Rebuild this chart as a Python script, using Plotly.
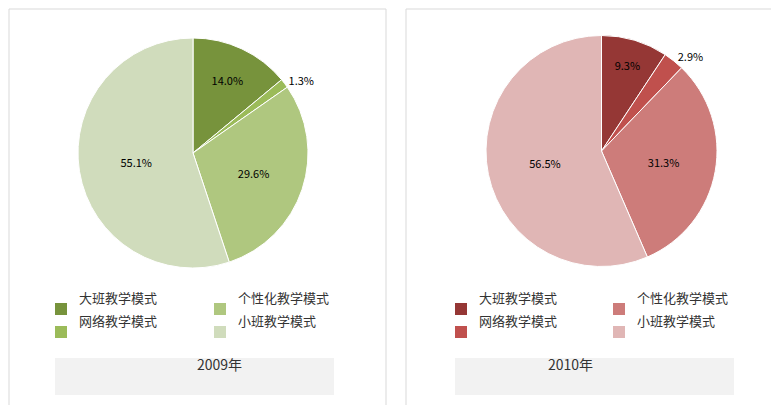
import plotly.graph_objects as go

labels = ["大班教学模式", "网络教学模式", "个性化教学模式", "小班教学模式"]
values_2009 = [14.0, 1.3, 29.6, 55.1]
values_2010 = [9.3, 2.9, 31.3, 56.5]
years = ["2009年", "2010年"]
colors_2009 = ["#77933c", "#9bbb59", "#afc77f", "#d0dcbc"]
colors_2010 = ["#953735", "#c0504d", "#cd7c7a", "#e0b6b5"]

W, H = 779, 405
def px(x): return x / W
def py(y): return 1 - y / H

fig = go.Figure()
panels = [
    (values_2009, colors_2009, years[0], 1, [70, 300], [30, 260], 47, 206, ["inside", "outside", "inside", "inside"]),
    (values_2010, colors_2010, years[1], 398, [478, 709], [27, 259], 447, 605, ["inside", "outside", "inside", "inside"]),
]
shapes, annotations = [], []
for vals, cols, year, left, dx, dy, lx1, lx2, tpos in panels:
    fig.add_trace(go.Pie(
        labels=labels, values=vals, sort=False, direction="clockwise", rotation=0,
        marker=dict(colors=cols, line=dict(color="white", width=1)),
        texttemplate="%{value:.1f}%", textposition=tpos,
        textfont=dict(size=11, color="black", family="Noto Sans CJK SC"),
        showlegend=False, hoverinfo="label+percent",
        domain=dict(x=[px(dx[0]), px(dx[1])], y=[py(dy[1]), py(dy[0])]),
    ))
    shapes.append(dict(type="rect", xref="paper", yref="paper", x0=px(left), x1=px(left + 377),
                       y0=py(403), y1=py(1), line=dict(color="#d9d9d9", width=1)))
    shapes.append(dict(type="rect", xref="paper", yref="paper", x0=px(lx1), x1=px(lx1 + 279),
                       y0=py(387), y1=py(350), fillcolor="#f2f2f2", line=dict(width=0)))
    annotations.append(dict(x=px(lx1 + 140), y=py(368), xref="paper", yref="paper", text=year,
                            showarrow=False, font=dict(size=14, color="#333", family="Noto Sans CJK SC")))
    order = [(0, lx1, 301), (2, lx2, 301), (1, lx1, 324), (3, lx2, 324)]
    for i, x, y in order:
        shapes.append(dict(type="rect", xref="paper", yref="paper", x0=px(x), x1=px(x + 12),
                           y0=py(y + 6), y1=py(y - 6), fillcolor=cols[i], line=dict(width=0)))
        annotations.append(dict(x=px(x + 22), y=py(y), xref="paper", yref="paper", text=labels[i],
                                xanchor="left", showarrow=False,
                                font=dict(size=13, color="#333", family="Noto Sans CJK SC")))

fig.update_layout(width=W, height=H, margin=dict(l=0, r=0, t=0, b=0),
                  paper_bgcolor="white", shapes=shapes, annotations=annotations)
fig.write_html("out.html")
